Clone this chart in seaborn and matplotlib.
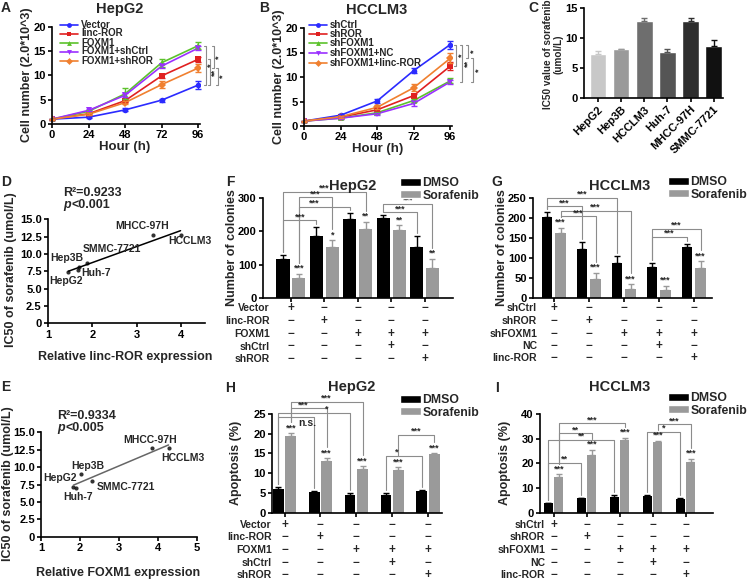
import numpy as np
import pandas as pd
import matplotlib
matplotlib.use("Agg")
import matplotlib.pyplot as plt
import matplotlib.transforms as mtransforms
from matplotlib.lines import Line2D
from matplotlib.patches import Patch
import seaborn as sns

# ---------------- data ----------------
hours = [0, 24, 48, 72, 96]

a_groups = ["Vector", "linc-ROR", "FOXM1", "FOXM1+shCtrl", "FOXM1+shROR"]
a_vector = [1.0, 1.4, 2.9, 4.9, 8.0]
a_lincror = [1.0, 2.1, 4.8, 9.9, 13.3]
a_foxm1 = [1.0, 2.6, 6.2, 12.6, 16.1]
a_foxm1_shctrl = [1.0, 2.8, 5.9, 11.9, 15.6]
a_foxm1_shror = [1.0, 2.0, 4.4, 8.1, 11.5]
a_vector_err = [0.1, 0.2, 0.3, 0.3, 0.8]
a_lincror_err = [0.1, 0.2, 0.3, 0.4, 0.5]
a_foxm1_err = [0.1, 0.3, 1.1, 0.8, 0.7]
a_foxm1_shctrl_err = [0.1, 0.2, 0.4, 0.4, 0.4]
a_foxm1_shror_err = [0.1, 0.2, 0.3, 0.7, 0.8]
a_brackets = [(101.0, 16.1, 8.0, "*"), (103.6, 13.3, 8.0, "**"),
              (106.3, 16.1, 11.5, "*"), (109.0, 11.5, 8.0, "*")]

b_groups = ["shCtrl", "shROR", "shFOXM1", "shFOXM1+NC", "shFOXM1+linc-ROR"]
b_shctrl = [1.0, 2.2, 5.1, 11.3, 16.6]
b_shror = [1.0, 1.8, 3.3, 6.2, 12.2]
b_shfoxm1 = [1.0, 1.6, 2.7, 5.2, 9.2]
b_shfoxm1_nc = [1.0, 1.6, 2.5, 4.6, 9.0]
b_shfoxm1_lincror = [1.0, 1.9, 3.8, 7.8, 13.8]
b_shctrl_err = [0.1, 0.2, 0.5, 0.5, 0.8]
b_shror_err = [0.1, 0.2, 0.3, 0.4, 0.8]
b_shfoxm1_err = [0.1, 0.2, 0.2, 0.4, 0.5]
b_shfoxm1_nc_err = [0.1, 0.2, 0.2, 0.6, 0.4]
b_shfoxm1_lincror_err = [0.1, 0.2, 0.4, 0.7, 1.0]
b_brackets = [(100.0, 16.6, 12.2, "*"), (103.9, 16.6, 9.0, "**"),
              (107.8, 16.6, 13.8, "*"), (111.1, 13.8, 9.0, "*")]

line_colors = ["#2b2bff", "#e02020", "#5cc22c", "#9b30ff", "#f08030"]
line_markers = ["o", "s", "^", "v", "D"]

c_lines = ["HepG2", "Hep3B", "HCCLM3", "Huh-7", "MHCC-97H", "SMMC-7721"]
c_ic50 = [7.3, 8.1, 12.8, 7.7, 12.8, 8.6]
c_err = [0.6, 0.15, 0.5, 0.4, 0.6, 1.1]
c_colors = ["#c8c8c8", "#9a9a9a", "#6e6e6e", "#555555", "#2e2e2e", "#111111"]

d_names = ["HepG2", "Hep3B", "Huh-7", "SMMC-7721", "MHCC-97H", "HCCLM3"]
d_lincror = [1.46, 1.70, 1.68, 1.88, 3.37, 3.98]
d_ic50 = [7.4, 8.1, 7.7, 8.7, 12.8, 12.7]
d_label_xy = [(1.40, 6.1), (1.42, 9.4), (2.08, 7.2), (2.44, 10.7), (3.11, 14.1), (4.19, 11.8)]

e_names = ["HepG2", "Hep3B", "Huh-7", "SMMC-7721", "MHCC-97H", "HCCLM3"]
e_foxm1 = [1.83, 2.02, 1.90, 2.30, 3.85, 4.27]
e_ic50 = [7.2, 9.0, 7.0, 8.0, 12.8, 12.7]
e_label_xy = [(1.49, 8.4), (2.21, 10.1), (1.94, 5.7), (3.18, 7.1), (3.80, 13.9), (4.65, 11.3)]

ic50_ticks = [0, 2.5, 5.0, 7.5, 10.0, 12.5, 15.0]
ic50_ticklabels = ["0", "2.5", "5.0", "7.5", "10.0", "12.5", "15.0"]

treatments = ["DMSO", "Sorafenib"]

# brackets: (bar 1 (group, hue), bar 2 (group, hue), line height, label, label x shift)
f_groups = ["Vector", "linc-ROR", "FOXM1", "FOXM1+shCtrl", "FOXM1+shROR"]
f_dmso = [117, 187, 238, 241, 153]
f_dmso_err = [12, 25, 17, 9, 33]
f_sora = [58, 154, 207, 203, 90]
f_sora_err = [15, 20, 22, 16, 27]
f_sig = ["***", "*", "**", "**", "**"]
f_brackets = [((0, 0), (2, 1), 320, "***", 0), ((0, 1), (1, 1), 303, "***", 0),
              ((0, 1), (2, 0), 275, "***", -0.3), ((0, 0), (1, 0), 233, "***", 0),
              ((3, 0), (4, 1), 283, "***", 0), ((3, 0), (4, 0), 258, "***", 0)]
f_rows = ["Vector", "linc-ROR", "FOXM1", "shCtrl", "shROR"]
f_signs = [["+", "−", "−", "−", "−"],
           ["−", "+", "−", "−", "−"],
           ["−", "−", "+", "+", "+"],
           ["−", "−", "−", "+", "−"],
           ["−", "−", "−", "−", "+"]]

g_groups = ["shCtrl", "shROR", "shFOXM1", "shFOXM1+NC", "shFOXM1+linc-ROR"]
g_dmso = [204, 122, 88, 76, 127]
g_dmso_err = [11, 17, 18, 12, 8]
g_sora = [163, 47, 21, 19, 74]
g_sora_err = [13, 16, 13, 11, 18]
g_sig = ["***", "***", "***", "***", "***"]
g_brackets = [((0, 0), (2, 0), 252, "***", 0), ((0, 0), (1, 0), 230, "***", 0),
              ((0, 1), (2, 1), 219, "***", 0), ((0, 1), (1, 1), 205, "***", 0),
              ((3, 0), (4, 1), 174, "***", 0), ((3, 0), (4, 0), 153, "***", 0)]
g_rows = ["shCtrl", "shROR", "shFOXM1", "NC", "linc-ROR"]
g_signs = [["+", "−", "−", "−", "−"],
           ["−", "+", "−", "−", "−"],
           ["−", "−", "+", "+", "+"],
           ["−", "−", "−", "+", "−"],
           ["−", "−", "−", "−", "+"]]

h_dmso = [6.0, 5.3, 4.6, 4.6, 5.5]
h_dmso_err = [0.6, 0.3, 0.3, 0.3, 0.3]
h_sora = [19.4, 13.1, 11.1, 10.8, 14.9]
h_sora_err = [0.7, 0.7, 0.7, 0.7, 0.2]
h_sig = ["***", "***", "***", "***", "***"]
h_brackets = [((0, 1), (2, 1), 28.1, "***", 0), ((0, 1), (1, 1), 26.4, "***", -0.15),
              ((0, 0), (2, 0), 25.3, "*", 0.35), ((0, 0), (1, 0), 24.3, "n.s.", 0.3),
              ((3, 1), (4, 1), 19.7, "***", 0), ((3, 0), (4, 0), 14.4, "*", -0.2)]

i_dmso = [3.8, 5.8, 6.5, 6.9, 5.5]
i_dmso_err = [0.3, 0.3, 0.5, 0.4, 0.3]
i_sora = [14.3, 23.4, 29.5, 28.5, 20.7]
i_sora_err = [1.2, 2.0, 0.9, 0.6, 1.2]
i_sig = ["***", "***", "***", "***", "***"]
i_brackets = [((0, 1), (2, 1), 36.2, "***", 0), ((0, 1), (1, 1), 32.2, "**", 0),
              ((0, 0), (2, 0), 29.5, "**", 0), ((0, 0), (1, 0), 20.3, "**", 0),
              ((3, 1), (4, 1), 35.8, "***", 0), ((3, 0), (4, 0), 32.8, "*", 0)]

# ---------------- style ----------------
sns.set_style("ticks")
plt.rcParams.update({
    "font.family": ["Liberation Sans", "DejaVu Sans"],
    "font.weight": "bold",
    "axes.labelweight": "bold",
    "axes.titleweight": "bold",
    "axes.linewidth": 1.2,
    "axes.edgecolor": "black",
    "xtick.major.width": 1.2, "ytick.major.width": 1.2,
    "xtick.major.size": 3, "ytick.major.size": 3,
    "xtick.major.pad": 1.5, "ytick.major.pad": 1.5,
    "xtick.labelsize": 8, "ytick.labelsize": 8,
    "xtick.color": "black", "ytick.color": "black",
})

W, H = 751, 581
fig = plt.figure(figsize=(W / 100, H / 100), dpi=100)
GREY = "#9a9a9a"
BRK = "#8c8c8c"


def axes_px(l, t, r, b):
    return fig.add_axes([l / W, 1 - b / H, (r - l) / W, (b - t) / H])


def ftext(x, y, s, **kw):
    return fig.text(x / W, 1 - y / H, s, **kw)


def finish(ax):
    sns.despine(ax=ax)
    ax.set_xlabel("")
    ax.set_ylabel("")


# ---------------- line panels (A, B) ----------------
def line_panel(ax, groups, series, errs, brackets, leg_x, leg_rows):
    df = pd.DataFrame({"hour": hours * len(groups),
                       "group": np.repeat(groups, len(hours)),
                       "value": np.concatenate(series)})
    sns.lineplot(data=df, x="hour", y="value", hue="group", style="group",
                 hue_order=groups, style_order=groups,
                 palette=dict(zip(groups, line_colors)),
                 markers=dict(zip(groups, line_markers)), dashes=False,
                 errorbar=None, legend=False, ax=ax, linewidth=1.2,
                 markersize=4, markeredgewidth=0)
    for s, e, c in zip(series, errs, line_colors):
        ax.errorbar(hours, s, yerr=e, fmt="none", ecolor=c, elinewidth=1,
                    capsize=2, capthick=1, clip_on=False)
    ax.set_xlim(0, 97.2)
    ax.set_ylim(0, 20)
    ax.set_xticks(hours)
    ax.set_yticks([0, 5, 10, 15, 20])
    finish(ax)
    for x, y1, y2, lab in brackets:
        ax.plot([x - 1.3, x, x, x - 1.3], [y1, y1, y2, y2], color=BRK, lw=0.8,
                clip_on=False)
        ax.text(x + 0.6, (y1 + y2) / 2, lab, rotation=90, ha="left", va="center",
                fontsize=6.5, clip_on=False)
    # legend drawn row by row (compact, as in the reference)
    for name, c, m, y in zip(groups, line_colors, line_markers, leg_rows):
        fig.add_artist(Line2D([leg_x / W, (leg_x + 18) / W], [1 - y / H, 1 - y / H],
                              color=c, lw=1.2, transform=fig.transFigure))
        fig.add_artist(Line2D([(leg_x + 9) / W], [1 - y / H], color=c, marker=m,
                              markersize=3.5, mew=0, transform=fig.transFigure))
        ftext(leg_x + 21, y, name, ha="left", va="center", fontsize=7)


axA = axes_px(52, 26.7, 200, 124)
line_panel(axA, a_groups,
           [a_vector, a_lincror, a_foxm1, a_foxm1_shctrl, a_foxm1_shror],
           [a_vector_err, a_lincror_err, a_foxm1_err, a_foxm1_shctrl_err, a_foxm1_shror_err],
           a_brackets, 60, [25, 33.5, 42.5, 51.5, 61])
ftext(120, 9, "HepG2", ha="center", va="center", fontsize=10.5)
ftext(27, 75, "Cell number (2.0*10^3)", rotation=90, ha="center", va="center", fontsize=9)
ftext(125, 147, "Hour (h)", ha="center", va="center", fontsize=9.5)

axB = axes_px(304, 28, 452, 126)
line_panel(axB, b_groups,
           [b_shctrl, b_shror, b_shfoxm1, b_shfoxm1_nc, b_shfoxm1_lincror],
           [b_shctrl_err, b_shror_err, b_shfoxm1_err, b_shfoxm1_nc_err, b_shfoxm1_lincror_err],
           b_brackets, 309, [25, 34, 43.3, 53, 62.5])
ftext(377, 10, "HCCLM3", ha="center", va="center", fontsize=10.5)
ftext(279, 77, "Cell number (2.0*10^3)", rotation=90, ha="center", va="center", fontsize=9)
ftext(378, 149, "Hour (h)", ha="center", va="center", fontsize=9.5)

# ---------------- C ----------------
axC = axes_px(584, 8, 723, 98)
sns.barplot(x=c_lines, y=c_ic50, hue=c_lines, palette=dict(zip(c_lines, c_colors)),
            width=0.72, saturation=1, errorbar=None, legend=False, ax=axC)
cx = [p.get_x() + p.get_width() / 2 for p in axC.patches]
ch = [p.get_height() for p in axC.patches]
for x, h, e, c in zip(cx, ch, c_err, c_colors):
    axC.errorbar([x], [h], yerr=[[0], [e]], fmt="none", ecolor=c, elinewidth=1,
                 capsize=2.5, capthick=1)
axC.set_xlim(-0.6, 5.4)
axC.set_ylim(0, 15)
axC.set_yticks([0, 5, 10, 15])
axC.set_xticks(range(len(c_lines)))
axC.set_xticklabels(c_lines, rotation=45, ha="right", rotation_mode="anchor", fontsize=8)
finish(axC)
ftext(553, 54, "IC50 value of sorafenib\n(umol/L)", rotation=90, ha="center",
      va="center", fontsize=7.2, linespacing=1.1, multialignment="center")


# ---------------- D, E ----------------
def scatter_panel(ax, xs, ys, names, label_xy, line_color, xlim, xticks):
    sns.regplot(x=np.array(xs), y=np.array(ys), ci=None, ax=ax, color="black",
                scatter_kws={"s": 9, "linewidths": 0},
                line_kws={"color": line_color, "lw": 1.1})
    for (tx, ty), n in zip(label_xy, names):
        ax.text(tx, ty, n, ha="center", va="center", fontsize=7.5, clip_on=False)
    ax.set_xlim(*xlim)
    ax.set_ylim(0, 15)
    ax.set_xticks(xticks)
    ax.set_yticks(ic50_ticks)
    ax.set_yticklabels(ic50_ticklabels)
    finish(ax)


axD = axes_px(48, 219.3, 205, 323.3)
scatter_panel(axD, d_lincror, d_ic50, d_names, d_label_xy, "black", (1, 4.53), [1, 2, 3, 4])
ftext(63, 193, "R²=0.9233", ha="left", va="center", fontsize=9)
ftext(63, 205, "p", ha="left", va="center", fontsize=9, style="italic")
ftext(71.5, 205, "<0.001", ha="left", va="center", fontsize=9)
ftext(11, 270, "IC50 of sorafenib (umol/L)", rotation=90, ha="center", va="center", fontsize=9)
ftext(125, 357, "Relative linc-ROR expression", ha="center", va="center", fontsize=9)

axE = axes_px(41, 432.3, 197, 536.7)
scatter_panel(axE, e_foxm1, e_ic50, e_names, e_label_xy, "#666666", (1, 5), [1, 2, 3, 4, 5])
ftext(57, 416, "R²=0.9334", ha="left", va="center", fontsize=9)
ftext(57, 428, "p", ha="left", va="center", fontsize=9, style="italic")
ftext(65.5, 428, "<0.005", ha="left", va="center", fontsize=9)
ftext(8, 484, "IC50 of sorafenib (umol/L)", rotation=90, ha="center", va="center", fontsize=9)
ftext(118, 573, "Relative FOXM1 expression", ha="center", va="center", fontsize=9)


# ---------------- bar panels (F, G, H, I) ----------------
def bar_panel(ax, groups, dmso, dmso_err, sora, sora_err, sig, brackets,
              width, gap, xlim, ymax, yticks):
    df = pd.DataFrame({"group": list(groups) * 2,
                       "treatment": np.repeat(treatments, len(groups)),
                       "value": list(dmso) + list(sora)})
    sns.barplot(data=df, x="group", y="value", hue="treatment", order=groups,
                hue_order=treatments, palette={"DMSO": "black", "Sorafenib": GREY},
                width=width, gap=gap, saturation=1, errorbar=None, legend=False,
                ax=ax, linewidth=0)
    pos = {}
    for hi, (cont, errs, col) in enumerate(zip(ax.containers, [dmso_err, sora_err],
                                                ["black", GREY])):
        xs = [p.get_x() + p.get_width() / 2 for p in cont]
        hs = [p.get_height() for p in cont]
        ax.errorbar(xs, hs, yerr=[np.zeros(len(errs)), errs], fmt="none", ecolor=col,
                    elinewidth=1, capsize=2.2, capthick=1, clip_on=False)
        for gi, (x, h, e) in enumerate(zip(xs, hs, errs)):
            pos[(gi, hi)] = (x, h + e)
    for gi, lab in enumerate(sig):
        x, top = pos[(gi, 1)]
        ax.text(x, top + 0.01 * ymax, lab, ha="center", va="bottom", fontsize=6.5)
    for k1, k2, y, lab, dx in brackets:
        (x1, t1), (x2, t2) = pos[k1], pos[k2]
        g1 = (0.11 if k1[1] == 1 else 0.03) * ymax
        g2 = (0.11 if k2[1] == 1 else 0.03) * ymax
        ax.plot([x1, x1, x2, x2], [t1 + g1, y, y, t2 + g2], color=BRK, lw=0.8,
                clip_on=False)
        if lab == "n.s.":
            ax.text((x1 + x2) / 2 + dx, y - 0.01 * ymax, lab, ha="center", va="top",
                    fontsize=7.5, clip_on=False)
        else:
            ax.text((x1 + x2) / 2 + dx, y - 0.01 * ymax, lab, ha="center", va="bottom",
                    fontsize=6.5, clip_on=False)
    ax.set_xlim(*xlim)
    ax.set_ylim(0, ymax)
    ax.set_yticks(yticks)
    ax.set_xticks(range(len(groups)))
    ax.tick_params(axis="x", labelbottom=False)
    finish(ax)


def sign_table(ax, rows, signs, row_y, label_right):
    trans = mtransforms.blended_transform_factory(ax.transData, fig.transFigure)
    for r, (name, srow, y) in enumerate(zip(rows, signs, row_y)):
        ftext(label_right, y, name, ha="right", va="center", fontsize=7.5)
        for gi, s in enumerate(srow):
            ax.text(gi, 1 - y / H, s, transform=trans, ha="center", va="center",
                    fontsize=8.5, clip_on=False)


def bar_legend(x, y):
    handles = [Patch(facecolor="black"), Patch(facecolor=GREY)]
    fig.legend(handles, treatments, loc="upper left", bbox_to_anchor=(x / W, 1 - y / H),
               frameon=False, fontsize=8.8, handlelength=1.7, handleheight=0.65,
               handletextpad=0.15, labelspacing=0.05, borderpad=0, borderaxespad=0)


axF = axes_px(263, 198.3, 453, 297.7)
bar_panel(axF, f_groups, f_dmso, f_dmso_err, f_sora, f_sora_err, f_sig, f_brackets,
          0.944, 0.17, (-0.835, 4.85), 300, [0, 100, 200, 300])
sign_table(axF, f_rows, f_signs, [308.3, 321, 334, 346.5, 359], 270)
ftext(353, 186, "HepG2", ha="center", va="center", fontsize=10.5)
ftext(232, 248, "Number of colonies", rotation=90, ha="center", va="center", fontsize=9)
bar_legend(400, 177)

axG = axes_px(533, 198.3, 712, 297.7)
bar_panel(axG, g_groups, g_dmso, g_dmso_err, g_sora, g_sora_err, g_sig, g_brackets,
          0.772, 0.2, (-0.594, 4.52), 250, [0, 50, 100, 150, 200, 250])
sign_table(axG, g_rows, g_signs, [307.7, 321, 334, 345.7, 358.3], 537)
ftext(620, 186, "HCCLM3", ha="center", va="center", fontsize=10.5)
ftext(502, 248, "Number of colonies", rotation=90, ha="center", va="center", fontsize=9)
bar_legend(668, 176)

axH = axes_px(272, 414, 442, 512.7)
bar_panel(axH, f_groups, h_dmso, h_dmso_err, h_sora, h_sora_err, h_sig, h_brackets,
          0.696, 0.14, (-0.35, 4.39), 25, [0, 5, 10, 15, 20, 25])
sign_table(axH, f_rows, f_signs, [525, 537, 550, 562.7, 575], 271.7)
ftext(352, 387, "HepG2", ha="center", va="center", fontsize=10.5)
ftext(236, 463, "Apoptosis (%)", rotation=90, ha="center", va="center", fontsize=9)
bar_legend(400, 394)

axI = axes_px(540, 414, 713, 512.7)
bar_panel(axI, g_groups, i_dmso, i_dmso_err, i_sora, i_sora_err, i_sig, i_brackets,
          0.632, 0.145, (-0.41, 4.83), 40, [0, 10, 20, 30, 40])
sign_table(axI, g_rows, g_signs, [525, 537.3, 550, 562.7, 575.3], 545)
ftext(620, 387, "HCCLM3", ha="center", va="center", fontsize=10.5)
ftext(505, 463, "Apoptosis (%)", rotation=90, ha="center", va="center", fontsize=9)
bar_legend(668, 392)

# ---------------- panel letters ----------------
for letter, (x, y) in zip("ABCDEFGHI", [(6, 8), (264, 8), (533, 8.5), (6, 182), (6, 387),
                                        (230, 182), (497, 182), (230, 388), (497, 388)]):
    ftext(x, y, letter, ha="center", va="center", fontsize=10)

fig.savefig("out.png", dpi=100)
